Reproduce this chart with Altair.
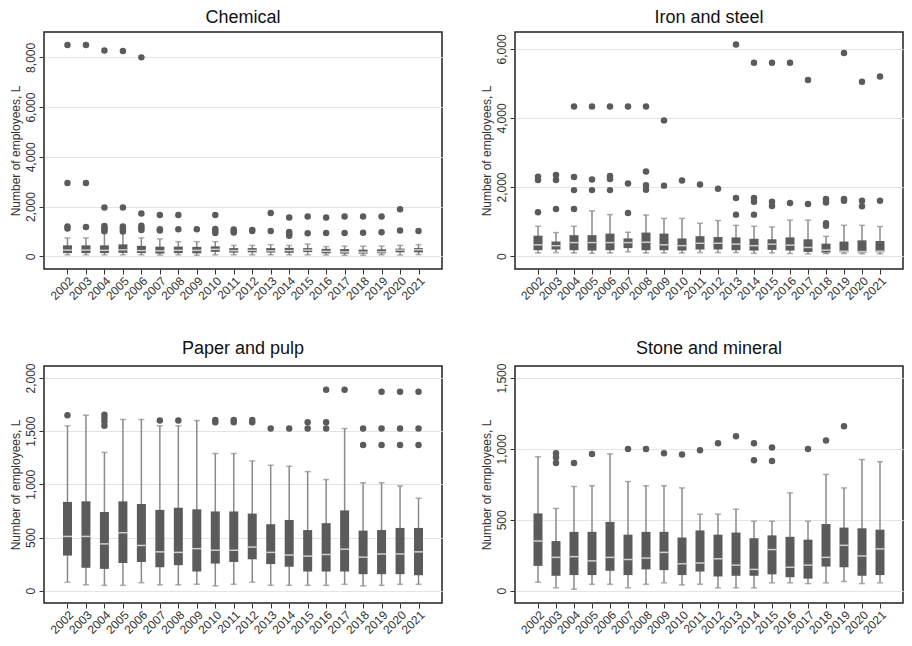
import altair as alt
import pandas as pd

years = list(range(2002, 2022))
Y_TITLE = "Number of employees, L"

# ---------------- Chemical ----------------
chem_lw = [60, 60, 60, 60, 60, 50, 60, 40, 60, 60, 60, 60, 60, 60, 50, 40, 40, 60, 50, 70]
chem_q1 = [130, 130, 130, 140, 130, 110, 130, 120, 180, 150, 160, 150, 140, 170, 120, 110, 110, 120, 160, 160]
chem_med = [250, 250, 240, 260, 230, 220, 240, 240, 280, 230, 240, 220, 230, 250, 200, 180, 170, 180, 250, 260]
chem_q3 = [440, 440, 440, 480, 420, 390, 390, 380, 400, 330, 330, 330, 340, 330, 300, 290, 270, 280, 310, 330]
chem_uw = [740, 740, 950, 950, 740, 700, 590, 590, 590, 440, 440, 470, 440, 490, 390, 410, 410, 410, 440, 470]
chem_out = [
    [8500, 2950, 1200, 1120], [8500, 2950, 1180], [8280, 1960, 1220, 1150, 1080, 1010],
    [8260, 1960, 1200, 1130, 1060, 1000], [8000, 1720, 1230, 1150, 1060], [1660, 1090, 1040],
    [1660, 1090], [1090], [1660, 1100, 1020, 940], [1080, 1020, 960], [1060, 1020],
    [1740, 1020], [1560, 980, 900, 830], [1600, 930], [1560, 940], [1600, 940],
    [1600, 950], [1600, 970], [1890, 1040], [1020],
]

# ---------------- Iron and steel ----------------
iron_lw = [90, 100, 90, 80, 90, 120, 90, 90, 90, 100, 100, 100, 80, 90, 75, 65, 70, 75, 65, 65]
iron_q1 = [170, 190, 170, 160, 170, 230, 170, 170, 160, 190, 190, 170, 160, 180, 160, 120, 100, 110, 100, 110]
iron_med = [325, 300, 390, 390, 390, 390, 400, 325, 300, 370, 370, 345, 300, 345, 315, 250, 170, 140, 130, 140]
iron_q3 = [590, 420, 605, 605, 650, 510, 680, 650, 510, 575, 550, 540, 500, 485, 540, 485, 360, 420, 455, 435]
iron_uw = [865, 680, 865, 1310, 1200, 690, 1190, 1090, 1090, 950, 1030, 890, 865, 845, 1040, 1040, 570, 890, 890, 855]
iron_out = [
    [2300, 2200, 1270], [2350, 2200, 1360], [4330, 2290, 1910, 1360], [4330, 2220, 1910],
    [4330, 2320, 2230, 1910], [4330, 2100, 1250], [4330, 2450, 2050, 1920], [3930, 2040],
    [2190], [2070], [1950], [6130, 1680, 1200], [5600, 1680, 1570, 1200], [5600, 1570, 1450],
    [5600, 1540], [5100, 1510], [1650, 1550, 950, 880], [5880, 1650, 1600], [5050, 1600, 1440],
    [5200, 1600],
]

# ---------------- Paper and pulp ----------------
paper_lw = [80, 55, 50, 50, 75, 55, 55, 60, 45, 60, 80, 50, 50, 50, 50, 60, 45, 50, 60, 60]
paper_q1 = [330, 215, 205, 260, 270, 220, 240, 180, 255, 270, 295, 250, 225, 180, 180, 180, 155, 155, 155, 145]
paper_med = [510, 510, 440, 545, 425, 365, 360, 395, 380, 380, 410, 360, 335, 325, 340, 390, 315, 345, 345, 365]
paper_q3 = [835, 840, 740, 840, 815, 760, 780, 765, 745, 745, 725, 625, 665, 570, 635, 755, 565, 570, 590, 590]
paper_uw = [1550, 1650, 1300, 1610, 1610, 1550, 1550, 1600, 1290, 1290, 1220, 1180, 1170, 1120, 1045, 1525, 1015, 1015, 985, 870]
paper_out = [
    [1650], [], [1550, 1590, 1625, 1655], [], [], [1600], [1600], [], [1585, 1605],
    [1585, 1605], [1585, 1605], [1525], [1525], [1525, 1585], [1525, 1585, 1890], [1890],
    [1370, 1525], [1370, 1525, 1870], [1370, 1525, 1870], [1370, 1525, 1870],
]

# ---------------- Stone and mineral ----------------
stone_lw = [60, 20, 10, 45, 45, 20, 45, 55, 40, 45, 20, 20, 20, 55, 55, 50, 55, 65, 50, 55]
stone_q1 = [175, 105, 110, 110, 140, 110, 150, 145, 110, 135, 100, 105, 105, 115, 95, 85, 170, 165, 105, 110]
stone_med = [350, 235, 240, 210, 235, 220, 230, 270, 190, 195, 225, 180, 150, 290, 165, 180, 235, 320, 245, 295]
stone_q3 = [545, 350, 415, 415, 485, 395, 415, 415, 375, 425, 395, 410, 370, 390, 380, 360, 470, 445, 440, 430]
stone_uw = [945, 580, 735, 740, 965, 770, 740, 740, 725, 540, 540, 575, 490, 490, 690, 490, 820, 725, 925, 910]
stone_out = [
    [], [900, 940, 970], [900], [965], [], [1000], [1000], [970], [960], [990], [1040],
    [1090], [920, 1040], [915, 1010], [], [1000], [1060], [1160], [], [],
]

BOX = "#5b5b5b"
WHISK = "#8a8a8a"
FONT = "Liberation Sans"


def panel(title, lw, q1, med, q3, uw, outs, ydom, yticks, width, height):
    df = pd.DataFrame({"year": years, "lw": lw, "q1": q1, "med": med, "q3": q3, "uw": uw})
    odf = pd.DataFrame([{"year": y, "v": v} for y, vs in zip(years, outs) for v in vs])

    xscale = alt.Scale(domain=[2001, 2022], nice=False, zero=False)
    xaxis = alt.Axis(values=years, format="d", labelAngle=315, grid=False, title=None,
                     labelFontSize=12, labelColor="#333333", tickSize=5, tickColor="#333333",
                     domain=False, labelPadding=1, labelOverlap=False, labelBound=False,
                     labelFlush=False)
    yscale = alt.Scale(domain=ydom, nice=False, zero=False)
    yaxis = alt.Axis(values=yticks, format=",.0f", labelAngle=270, grid=True, gridColor="#e4e4e4",
                     gridWidth=1.2, title=Y_TITLE, titleFontSize=12, titleFontWeight="normal",
                     titleColor="#333333", labelFontSize=12, labelColor="#333333", tickSize=5,
                     tickColor="#333333", domain=False, labelPadding=2, titlePadding=2,
                     labelOverlap=False, labelFlush=False)

    def X():
        return alt.X("year:Q", scale=xscale, axis=xaxis, title=None)

    def Yf(f):
        return alt.Y(f, type="quantitative", scale=yscale, axis=yaxis, title=Y_TITLE)

    base = alt.Chart(df)
    whisk = base.mark_rule(color=WHISK, strokeWidth=1.5).encode(x=X(), y=Yf("lw"), y2="uw")
    cap_lo = base.mark_tick(color=WHISK, size=6, thickness=1.5, orient="horizontal").encode(x=X(), y=Yf("lw"))
    cap_hi = base.mark_tick(color=WHISK, size=6, thickness=1.5, orient="horizontal").encode(x=X(), y=Yf("uw"))
    box = base.mark_bar(size=9, color=BOX).encode(x=X(), y=Yf("q1"), y2="q3")
    medl = base.mark_tick(color="white", size=9, thickness=1.5, orient="horizontal").encode(x=X(), y=Yf("med"))
    pts = alt.Chart(odf).mark_circle(size=42, color=BOX, opacity=1).encode(x=X(), y=Yf("v"))

    return alt.layer(whisk, cap_lo, cap_hi, box, medl, pts).properties(
        width=width, height=height,
        title=alt.TitleParams(title, fontSize=18, fontWeight="normal", font=FONT, color="#111111", offset=5),
    )


H = 237
c1 = panel("Chemical", chem_lw, chem_q1, chem_med, chem_q3, chem_uw, chem_out,
           [-510, 9020], [0, 2000, 4000, 6000, 8000], 398, H)
c2 = panel("Iron and steel", iron_lw, iron_q1, iron_med, iron_q3, iron_uw, iron_out,
           [-375, 6490], [0, 2000, 4000, 6000], 388, H)
c3 = panel("Paper and pulp", paper_lw, paper_q1, paper_med, paper_q3, paper_uw, paper_out,
           [-116, 2113], [0, 500, 1000, 1500, 2000], 398, H)
c4 = panel("Stone and mineral", stone_lw, stone_q1, stone_med, stone_q3, stone_uw, stone_out,
           [-87, 1585], [0, 500, 1000, 1500], 388, H)

chart = alt.vconcat(
    alt.hconcat(c1, c2, spacing=36),
    alt.hconcat(c3, c4, spacing=36),
    spacing=36,
).configure(font=FONT).configure_view(stroke="#222222", strokeWidth=1.5).configure_axis(
    labelFont=FONT, titleFont=FONT
).properties(background="white", padding=0)

chart.save("out.html", embed_options={"renderer": "svg", "actions": False})
